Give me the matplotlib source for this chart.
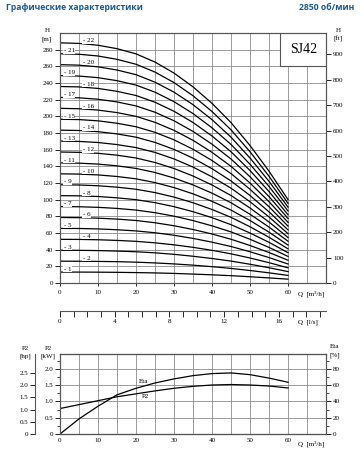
import numpy as np
import matplotlib.pyplot as plt
from matplotlib.patches import Rectangle

plt.rcParams['font.family'] = ['Liberation Serif', 'DejaVu Serif']

# H-Q curves, one row per stage count (1..22), read at q_points
q_points = [0, 5, 10, 15, 20, 25, 30, 35, 40, 45, 50, 55, 60]
stages = list(range(1, 23))
head = [
    [13.1, 13.1, 13.0, 12.8, 12.5, 12.1, 11.5, 10.7, 9.8, 8.8, 7.5, 6.1, 4.6],
    [26.2, 26.1, 25.9, 25.6, 25.0, 24.1, 22.9, 21.4, 19.6, 17.5, 15.0, 12.2, 9.1],
    [39.3, 39.2, 38.9, 38.3, 37.5, 36.2, 34.4, 32.1, 29.4, 26.3, 22.5, 18.3, 13.7],
    [52.4, 52.3, 51.9, 51.1, 50.0, 48.2, 45.8, 42.8, 39.2, 35.0, 30.0, 24.4, 18.2],
    [65.5, 65.4, 64.9, 63.9, 62.5, 60.3, 57.3, 53.5, 49.0, 43.8, 37.5, 30.5, 22.8],
    [78.6, 78.4, 77.8, 76.7, 75.0, 72.3, 68.7, 64.2, 58.8, 52.5, 45.0, 36.6, 27.3],
    [91.7, 91.5, 90.8, 89.5, 87.5, 84.4, 80.2, 74.9, 68.6, 61.3, 52.5, 42.7, 31.9],
    [104.8, 104.6, 103.8, 102.2, 100.0, 96.4, 91.6, 85.6, 78.4, 70.0, 60.0, 48.8, 36.4],
    [117.9, 117.6, 116.7, 115.0, 112.5, 108.5, 103.1, 96.3, 88.2, 78.8, 67.5, 54.9, 41.0],
    [131.0, 130.7, 129.7, 127.8, 125.0, 120.5, 114.5, 107.0, 98.0, 87.5, 75.0, 61.0, 45.5],
    [144.1, 143.8, 142.7, 140.6, 137.5, 132.6, 126.0, 117.7, 107.8, 96.3, 82.5, 67.1, 50.1],
    [157.2, 156.8, 155.6, 153.4, 150.0, 144.6, 137.4, 128.4, 117.6, 105.0, 90.0, 73.2, 54.6],
    [170.3, 169.9, 168.6, 166.1, 162.5, 156.7, 148.9, 139.1, 127.4, 113.8, 97.5, 79.3, 59.2],
    [183.4, 183.0, 181.6, 178.9, 175.0, 168.7, 160.3, 149.8, 137.2, 122.5, 105.0, 85.4, 63.7],
    [196.5, 196.1, 194.6, 191.7, 187.5, 180.8, 171.8, 160.5, 147.0, 131.3, 112.5, 91.5, 68.3],
    [209.6, 209.1, 207.5, 204.5, 200.0, 192.8, 183.2, 171.2, 156.8, 140.0, 120.0, 97.6, 72.8],
    [222.7, 222.2, 220.5, 217.3, 212.5, 204.9, 194.7, 181.9, 166.6, 148.8, 127.5, 103.7, 77.4],
    [235.8, 235.3, 233.5, 230.0, 225.0, 216.9, 206.1, 192.6, 176.4, 157.5, 135.0, 109.8, 81.9],
    [248.9, 248.3, 246.4, 242.8, 237.5, 229.0, 217.6, 203.3, 186.2, 166.3, 142.5, 115.9, 86.5],
    [262.0, 261.4, 259.4, 255.6, 250.0, 241.0, 229.0, 214.0, 196.0, 175.0, 150.0, 122.0, 91.0],
    [275.1, 274.5, 272.4, 268.4, 262.5, 253.1, 240.5, 224.7, 205.8, 183.8, 157.5, 128.1, 95.6],
    [288.2, 287.5, 285.3, 281.2, 275.0, 265.1, 251.9, 235.4, 215.6, 192.5, 165.0, 134.2, 100.1],
]

# power / efficiency curves
q_perf = [0, 5, 10, 15, 20, 25, 30, 35, 40, 45, 50, 55, 60]
eta = [0, 18.5, 34, 48, 56, 62.5, 67.5, 71.5, 74, 74.8, 72.7, 68.5, 63.4]
p2_kw = [0.78, 0.90, 1.02, 1.14, 1.23, 1.32, 1.40, 1.46, 1.50, 1.515, 1.50, 1.47, 1.41]

title_left = 'Графические характеристики'
title_right = '2850 об/мин'
model = 'SJ42'

W, H = 360, 450
fs = 5
gcol = '#8a8a8a'
scol = '#555555'


def fx(px):
    return px / W


def fy(py):
    return 1 - py / H


fig = plt.figure(figsize=(3.6, 4.5), dpi=100)

fig.text(fx(6), fy(7), title_left, family=['Open Sans', 'DejaVu Sans'], fontweight='bold',
         fontsize=6.2, color='#1d5a8a', va='center', ha='left')
fig.text(fx(354), fy(7), title_right, family=['Open Sans', 'DejaVu Sans'], fontweight='bold',
         fontsize=6.2, color='#1d5a8a', va='center', ha='right')


def style(ax):
    for s in ax.spines.values():
        s.set_color(scol)
        s.set_linewidth(0.8)
    ax.tick_params(labelsize=fs, colors='black', width=0.6, length=3.5, pad=1.5)
    ax.tick_params(which='minor', length=0)


# ---------- top: H-Q ----------
ax = fig.add_axes([fx(60), fy(283), fx(326) - fx(60), fy(33) - fy(283)])
ax.set_xlim(0, 70)
ax.set_ylim(0, 300)
ax.set_xticks(range(0, 61, 10))
ax.set_xticks(range(5, 71, 5), minor=True)
ax.set_yticks(range(0, 281, 20))
ax.grid(True, which='both', color=gcol, lw=0.6)
ax.set_axisbelow(True)
style(ax)
ax.tick_params(axis='x', length=2, pad=3)

for n, h in zip(stages, head):
    ax.plot(q_points, h, color='black', lw=0.9, zorder=3)
    qlab = 6.0 if n % 2 == 0 else 1.0
    hlab = np.interp(qlab, q_points, h) + 3.5
    ax.text(qlab, hlab, '- %d' % n, fontsize=fs, va='center', ha='left', zorder=4,
            bbox=dict(facecolor='white', edgecolor='none', pad=0.3))

ax.add_patch(Rectangle((58, 260), 12, 40, facecolor='white', edgecolor=scol, lw=0.8, zorder=5))
ax.text(64, 280, model, fontsize=10, ha='center', va='center', zorder=6)

axf = ax.twinx()
axf.set_ylim(0, 300 / 0.3048)
axf.set_yticks(range(0, 901, 100))
style(axf)

ax.annotate('Q  [m³/h]', xy=(62.5, 0), xycoords='data', xytext=(0, -7.5),
            textcoords='offset points', fontsize=fs, va='center', ha='left')
fig.text(fx(47), fy(31), 'H', fontsize=fs, ha='center', va='center')
fig.text(fx(47), fy(39), '[m]', fontsize=fs, ha='center', va='center')
fig.text(fx(338), fy(31), 'H', fontsize=fs, ha='center', va='center')
fig.text(fx(338), fy(39), '[ft]', fontsize=fs, ha='center', va='center')

# ---------- l/s scale ----------
axl = fig.add_axes([fx(60), fy(311), fx(326) - fx(60), 0.001])
axl.set_xlim(0, 70 / 3.6)
axl.set_xticks(range(0, 17, 4))
axl.set_xticks(range(0, 20), minor=True)
axl.set_yticks([])
for k in ['top', 'left', 'right']:
    axl.spines[k].set_visible(False)
axl.spines['bottom'].set_color(scol)
axl.spines['bottom'].set_linewidth(0.8)
axl.tick_params(labelsize=fs, width=0.6, length=4, pad=2)
axl.tick_params(which='minor', width=0.6, length=4)
axl.annotate('Q  [l/s]', xy=(62.5 / 3.6, 0), xycoords='data', xytext=(0, -8),
             textcoords='offset points', fontsize=fs, va='center', ha='left')

# ---------- bottom: P2 / Eta ----------
kw_top = 2.45
axb = fig.add_axes([fx(60), fy(434), fx(326) - fx(60), fy(354) - fy(434)])
axb.set_xlim(0, 70)
axb.set_ylim(0, kw_top)
axb.set_xticks(range(0, 61, 10))
axb.set_xticks(range(5, 71, 5), minor=True)
axb.set_yticks(np.arange(0, 2.01, 0.5))
axb.set_yticks(np.arange(0.25, 2.3, 0.25), minor=True)
axb.set_yticklabels(['0', '0.5', '1.0', '1.5', '2.0'])
axb.grid(True, which='major', color=gcol, lw=0.6)
axb.grid(True, which='minor', axis='x', color=gcol, lw=0.6)
axb.set_axisbelow(True)
style(axb)
axb.tick_params(axis='x', length=0, pad=3)
axb.tick_params(axis='y', which='minor', length=2, width=0.5)

axb.plot(q_perf, p2_kw, color='black', lw=0.9)
axb.text(22.5, 1.15, 'P2', fontsize=fs, ha='center', va='center')

axe = axb.twinx()
axe.set_ylim(0, kw_top * 40)
axe.set_yticks(range(0, 81, 20))
axe.set_yticks(range(10, 91, 10), minor=True)
style(axe)
axe.tick_params(axis='y', which='minor', length=2, width=0.5)
axe.plot(q_perf, eta, color='black', lw=0.9)
axe.text(22, 64.5, 'Eta', fontsize=fs, ha='center', va='center')

axh = axb.twinx()
axh.spines['left'].set_position(('outward', 18))
axh.spines['left'].set_visible(True)
axh.yaxis.set_ticks_position('left')
axh.set_ylim(0, kw_top / 0.7457)
axh.set_yticks(np.arange(0, 2.51, 0.5))
axh.set_yticklabels(['0', '0.5', '1.0', '1.5', '2.0', '2.5'])
style(axh)
axh.spines['right'].set_visible(False)

axb.annotate('Q  [m³/h]', xy=(62.5, 0), xycoords='data', xytext=(0, -7),
             textcoords='offset points', fontsize=fs, va='center', ha='left')
fig.text(fx(25), fy(348), 'P2', fontsize=fs, ha='center', va='center')
fig.text(fx(25), fy(356), '[hp]', fontsize=fs, ha='center', va='center')
fig.text(fx(48), fy(348), 'P2', fontsize=fs, ha='center', va='center')
fig.text(fx(48), fy(356), '[kW]', fontsize=fs, ha='center', va='center')
fig.text(fx(335), fy(346), 'Eta', fontsize=fs, ha='center', va='center')
fig.text(fx(335), fy(355), '[%]', fontsize=fs, ha='center', va='center')

fig.savefig('out.png', dpi=100)
